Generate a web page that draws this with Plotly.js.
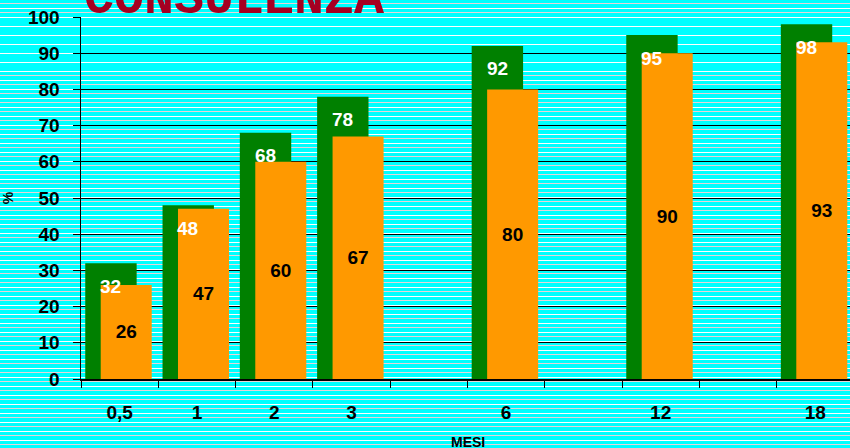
<!DOCTYPE html>
<html>
<head>
<meta charset="utf-8">
<script src="https://cdn.plot.ly/plotly-3.0.1.min.js"></script>
<style>
  html, body {
    margin: 0;
    padding: 0;
    width: 850px;
    height: 448px;
    overflow: hidden;
    background: repeating-linear-gradient(to bottom,
      #00ffff 0px, #00ffff 3.5px,
      #ead4d8 3.5px, #ead4d8 4.5px,
      #00ffff 4.5px, #00ffff 8px,
      #ffffff 8px, #ffffff 9px);
  }
  #grafico { width: 850px; height: 448px; }
</style>
</head>
<body>
<div id="grafico"></div>
<script>
// mesi (con slot vuoti tra 3-6, 6-12, 12-18 come nell'originale)
const mesi = ['0,5', '1', '2', '3', '6', '12', '18'];
const slotAsse = ['0,5', '1', '2', '3', ' ', '6', '  ', '12', '   ', '18'];
const serieVerde = [32, 48, 68, 78, 92, 95, 98];
const serieArancio = [26, 47, 60, 67, 80, 90, 93];

const fontBase = 'Liberation Sans, Arial, sans-serif';

const tracce = [
  {
    type: 'bar',
    x: mesi,
    y: serieVerde,
    marker: { color: '#008000' },
    offset: -0.445,
    width: 0.665,
    hoverinfo: 'skip'
  },
  {
    type: 'bar',
    x: mesi,
    y: serieArancio,
    marker: { color: '#ff9900' },
    offset: -0.245,
    width: 0.66,
    text: serieArancio.map(String),
    textposition: 'inside',
    insidetextanchor: 'middle',
    textangle: 0,
    constraintext: 'none',
    textfont: { family: fontBase, size: 19, color: '#000000', weight: 'bold' },
    hoverinfo: 'skip'
  }
];

// etichette bianche della serie verde, sopra tutte le barre
// (indice della categoria, altrimenti '6', '12'... vengono letti come indici)
const etichetteVerdi = mesi.map((m, i) => ({
  x: slotAsse.indexOf(m),
  y: serieVerde[i],
  xref: 'x',
  yref: 'y',
  text: String(serieVerde[i]),
  showarrow: false,
  xanchor: 'center',
  yanchor: 'middle',
  xshift: -9,
  yshift: -23,
  font: { family: fontBase, size: 19, color: '#ffffff', weight: 'bold' }
}));

const layout = {
  width: 850,
  height: 448,
  margin: { l: 81, r: 0, t: 17, b: 69 },
  paper_bgcolor: 'rgba(0,0,0,0)',
  plot_bgcolor: 'rgba(0,0,0,0)',
  barmode: 'overlay',
  showlegend: false,
  font: { family: fontBase, color: '#000000' },
  xaxis: {
    type: 'category',
    categoryorder: 'array',
    categoryarray: slotAsse,
    range: [-0.5, 9.45],
    tickson: 'boundaries',
    ticks: 'outside',
    ticklen: 7,
    tickcolor: '#000000',
    tickwidth: 1,
    ticklabelstandoff: 16,
    tickfont: { family: fontBase, size: 19, weight: 'bold', color: '#000000' },
    showline: true,
    linecolor: '#000000',
    linewidth: 1.5,
    showgrid: false,
    zeroline: false
  },
  yaxis: {
    range: [0, 100],
    dtick: 10,
    ticks: 'outside',
    ticklen: 7,
    tickcolor: '#000000',
    ticklabelstandoff: 9,
    tickfont: { family: fontBase, size: 19, weight: 'bold', color: '#000000' },
    showline: true,
    linecolor: '#000000',
    linewidth: 1.5,
    showgrid: true,
    gridcolor: '#000000',
    gridwidth: 1,
    zeroline: false,
    title: {
      text: '%',
      font: { family: fontBase, size: 14, weight: 'bold', color: '#000000' },
      standoff: 11
    }
  },
  annotations: [
    {
      text: 'CONSULENZA',
      xref: 'paper',
      yref: 'paper',
      x: 0,
      y: 1,
      xanchor: 'left',
      yanchor: 'bottom',
      xshift: 1,
      yshift: -13,
      showarrow: false,
      font: { family: 'Liberation Mono, Courier New, monospace', size: 50, weight: 'bold', color: '#a50021' }
    },
    {
      // titolo asse x, vicino al bordo in basso come nell'originale
      text: 'MESI',
      xref: 'paper',
      yref: 'paper',
      x: 0.5,
      y: 0,
      xanchor: 'center',
      yanchor: 'top',
      xshift: 2,
      yshift: -53,
      showarrow: false,
      font: { family: fontBase, size: 14, weight: 'bold', color: '#000000' }
    }
  ].concat(etichetteVerdi)
};

Plotly.newPlot('grafico', tracce, layout, { displayModeBar: false, staticPlot: true });
</script>
</body>
</html>
